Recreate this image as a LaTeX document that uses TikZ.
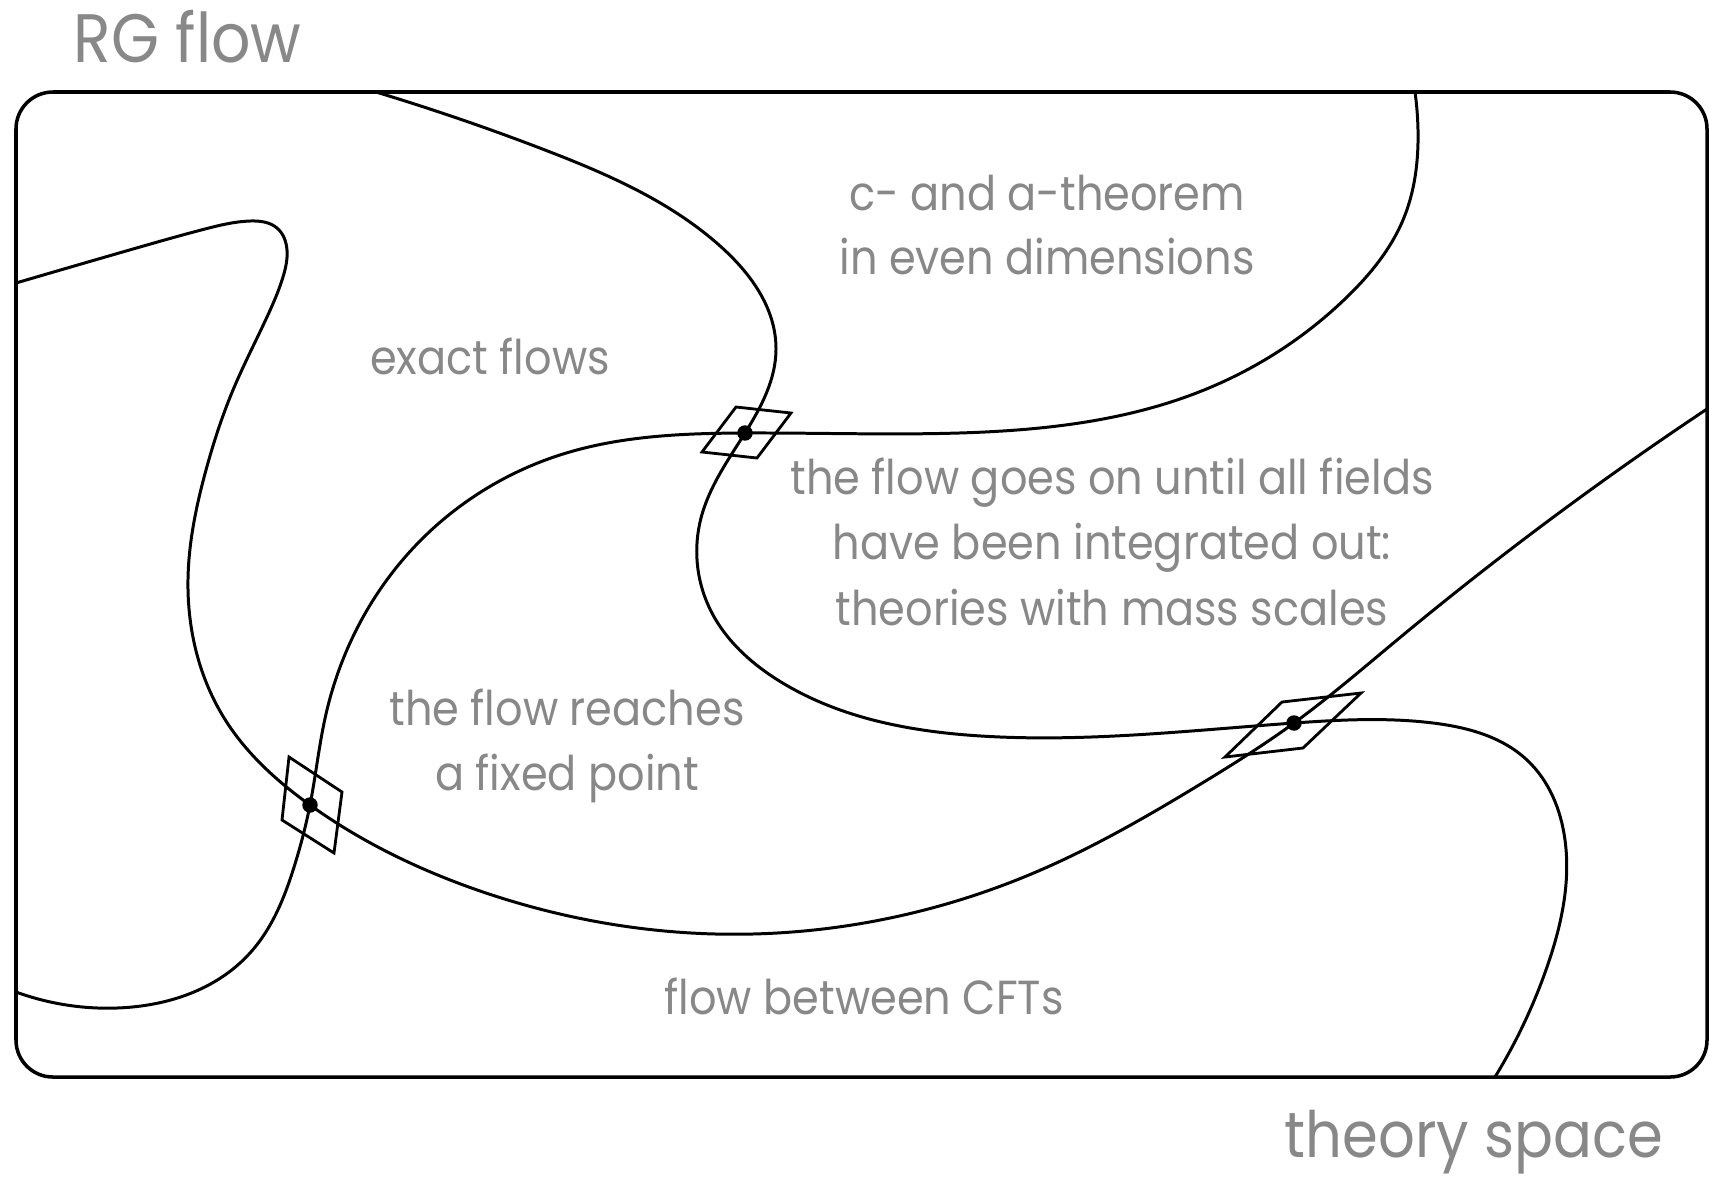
\documentclass[tikz,border=0pt]{standalone}
\usepackage{fontspec}
\setmainfont{Poppins}[FakeStretch=0.9]
\usetikzlibrary{hobby}
\definecolor{txtgray}{RGB}{136,136,136}
\tikzset{
  frame/.style={line width=1pt, rounded corners=10.5pt},
  flowline/.style={line width=0.85pt, use Hobby shortcut},
  plane/.style={line width=0.8pt},
  fixdot/.style={circle, fill=black, inner sep=0pt, minimum size=4.4pt},
  lbl/.style={text=txtgray, font=\fontsize{13.6}{18}\selectfont, anchor=base, inner sep=0pt},
  big/.style={text=txtgray, font=\fontsize{19.5}{22}\selectfont, anchor=base west, inner sep=0pt}
}
\begin{document}
\begin{tikzpicture}[x=0.01cm, y=-0.01cm]
\useasboundingbox (0,0) rectangle (1709,1178);
\coordinate (d1) at (745,433);
\coordinate (d2) at (310,805);
\coordinate (d3) at (1294,723);

\draw[frame] (16,92) rectangle (1707,1077);

% curve A
\draw[flowline] (376,92) .. (545,150) .. (719,245) .. (776,349) .. (d1) .. (701,518) .. (709,607) .. (781,682) .. (981,736) .. (d3) .. (1433,723) .. (1527,760) .. (1565,840) .. (1547,967) .. (1495,1077);
% curve B
\draw[flowline] (16,283) .. (133,249) .. (205,229) .. (250,221) .. (277,228) .. (287,250) .. (283,277) .. (267,317) .. (233,390) .. (206,470) .. (188,579) .. (226,721) .. (d2) .. (486,893) .. (716,934) .. (1036,872) .. (1199,785) .. (d3) .. (1397,640) .. (1707,409);
% curve C
\draw[flowline] (16,992) .. (117,1008) .. (250,953) .. (295,864) .. (d2) .. (326,714) .. (418,543) .. (563,454) .. (d1) .. (959,433) .. (1199,392) .. (1347,297) .. (1403,220) .. (1418,130) .. (1415,92);

% tangent planes
\draw[plane, shift={(d1)}] (-9,-26) -- (46,-20) -- (12,25) -- (-43,19) -- cycle;
\draw[plane, shift={(d2)}] (-21,-48) -- (32,-13) -- (24,48) -- (-28,15) -- cycle;
\draw[plane, shift={(d3)}] (-12,-21) -- (67,-30) -- (9,25) -- (-69,34) -- cycle;

\node[fixdot] (p1) at (d1) {};
\node[fixdot] (p2) at (d2) {};
\node[fixdot] (p3) at (d3) {};

\node[big] (title) at (73,62) {RG flow};
\node[big, font=\fontsize{18.2}{21}\selectfont, anchor=base east] (space) at (1664,1157) {theory space};

\node[lbl] (c1) at (1047,210) {c- and a-theorem};
\node[lbl] (c2) at (1047,274) {in even dimensions};
\node[lbl] (ex) at (490,374) {exact flows};
\node[lbl] (m1) at (1112,494) {the flow goes on until all fields};
\node[lbl] (m2) at (1112,559) {have been integrated out:};
\node[lbl] (m3) at (1112,625) {theories with mass scales};
\node[lbl] (f1) at (567,725) {the flow reaches};
\node[lbl] (f2) at (567,790) {a fixed point};
\node[lbl] (cft) at (864,1014) {flow between CFTs};
\end{tikzpicture}
\end{document}
